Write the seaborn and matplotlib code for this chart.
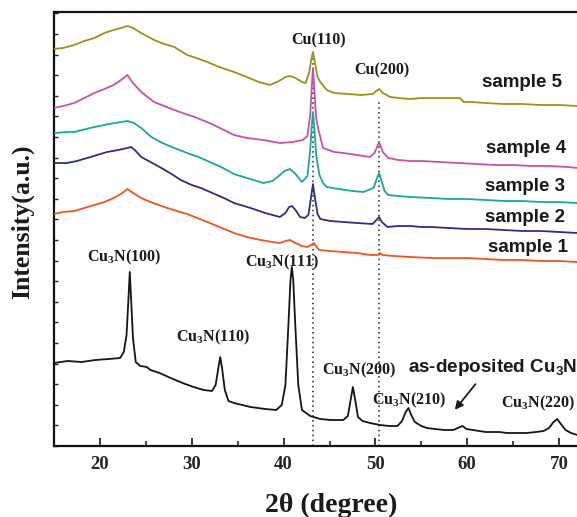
import numpy as np
import pandas as pd
import matplotlib
matplotlib.use("Agg")
import matplotlib.pyplot as plt
from matplotlib.ticker import MultipleLocator
import seaborn as sns

# ---------------- data (2theta in degrees, intensity in a.u.) ----------------
tt_asdep = [15.0, 16.5, 18.0, 19.5, 21.0, 22.2, 22.6, 22.9, 23.1, 23.25, 23.4, 23.6, 23.9, 24.4, 25.1, 25.5,
            26.5, 27.7, 29.0, 30.2, 31.3, 32.2, 32.6, 32.9, 33.1, 33.3, 33.6, 34.0, 34.6, 35.5, 36.4, 38.0,
            39.2, 39.8, 40.2, 40.5, 40.75, 40.9, 41.05, 41.3, 41.6, 42.0, 42.9, 44.0, 45.1, 46.5, 47.0, 47.3,
            47.55, 47.8, 48.1, 48.6, 49.4, 50.5, 51.5, 52.4, 52.9, 53.3, 53.6, 53.9, 54.3, 55.0, 55.6, 56.5,
            57.5, 58.5, 59.2, 59.5, 59.9, 60.6, 62.0, 63.5, 64.3, 65.5, 66.5, 67.5, 68.3, 68.9, 69.4, 69.8,
            70.2, 70.7, 71.3, 72.0, 73.0]
int_asdep = [83, 85, 84, 86, 87, 88, 94, 111, 146, 174, 146, 108, 84, 80, 79, 76,
             73, 68, 63, 59, 56, 55, 61, 78, 89, 78, 56, 45, 43, 41, 39, 37,
             36, 41, 61, 116, 166, 179, 166, 116, 61, 36, 30, 27, 26, 26, 30, 46,
             59, 46, 29, 25, 23, 21, 20, 20, 25, 34, 38, 31, 24, 20, 18, 17,
             16, 16, 19, 20, 17, 16, 14, 14, 13, 13, 13, 14, 15, 18, 24, 27,
             22, 16, 13, 11, 11]

tt_s1 = [15, 16, 17.2, 18.3, 19.4, 20.5, 21.5, 22.3, 23.0, 23.6, 24.5, 25.5, 26.7, 28.0, 29.5, 30.6, 31.7,
         33.0, 34.6, 36.0, 37.5, 38.8, 39.6, 40.2, 40.7, 41.3, 42.0, 42.6, 43.0, 43.3, 43.6, 43.9, 45.0,
         46.5, 48.0, 49.5, 50.2, 50.5, 50.8, 52.0, 53.8, 56.0, 58.0, 60.0, 62.0, 64.0, 66.0, 68.0, 70.0,
         72.0, 75.0]
int_s1 = [232, 234, 235, 238, 241, 244, 248, 252, 257, 253, 248, 244, 240, 236, 232, 228, 224,
          219, 213, 209, 206, 204, 203, 205, 206, 203, 200, 199, 201, 203, 199, 196, 195,
          194, 193, 191, 191, 193, 191, 190, 189, 188, 188, 188, 187, 186, 186, 185, 185,
          184, 184]

tt_s2 = [15, 16.4, 17.5, 18.6, 19.7, 20.8, 22.0, 23.0, 23.4, 23.8, 24.5, 25.5, 26.7, 27.8, 28.8, 30.0,
         31.0, 32.5, 33.5, 34.6, 36.4, 38.0, 39.6, 40.2, 40.6, 40.9, 41.3, 41.8, 42.3, 42.7, 42.95, 43.2,
         43.45, 43.7, 44.0, 45.1, 46.5, 48.0, 49.7, 50.1, 50.4, 50.7, 51.3, 52.5, 53.8, 55, 56, 58, 60,
         62, 64, 66, 68, 70, 72, 75]
int_s2 = [283, 283, 285, 288, 291, 294, 296, 298, 299, 296, 289, 284, 278, 272, 266, 261,
          258, 252, 248, 243, 238, 233, 229, 233, 239, 240, 236, 229, 228, 231, 246, 262,
          246, 232, 227, 225, 224, 223, 222, 226, 229, 224, 219, 220, 220, 219, 219, 218, 217,
          217, 216, 215, 215, 214, 213, 213]

tt_s3 = [15, 16.5, 17.2, 18.5, 19.4, 21.0, 22.3, 23.0, 23.7, 24.5, 25.6, 26.8, 28.1, 29.5, 31.0, 32.2,
         33.2, 34.6, 36.0, 37.8, 38.8, 39.6, 40.1, 40.7, 41.3, 42.0, 42.6, 42.9, 43.05, 43.2, 43.35, 43.55,
         43.9, 44.3, 44.7, 46.0, 47.5, 48.7, 49.8, 50.1, 50.4, 50.7, 51.0, 51.4, 52.5, 53.8, 56, 58, 60,
         62, 64, 66, 68, 70, 72, 75]
int_s3 = [313, 314, 314, 317, 319, 322, 324, 325, 323, 318, 309, 303, 298, 293, 288, 283,
          279, 272, 268, 263, 265, 271, 275, 277, 272, 264, 270, 296, 318, 334, 318, 291,
          271, 263, 259, 257, 255, 254, 258, 266, 273, 264, 255, 251, 250, 249, 248, 247, 247,
          246, 245, 245, 244, 244, 243, 242]

tt_s4 = [15, 16.0, 17.2, 18.3, 19.4, 20.5, 21.5, 22.3, 23.0, 23.5, 24.5, 25.9, 27.0, 28.1, 29.3, 30.3,
         31.4, 32.4, 33.5, 34.6, 36.0, 37.8, 39.6, 41.0, 42.1, 42.6, 42.9, 43.05, 43.2, 43.35, 43.55, 43.8,
         44.3, 45.5, 46.5, 48.0, 49.4, 49.9, 50.4, 50.8, 51.4, 52.5, 53.8, 55, 57, 59, 61, 63, 65, 67,
         69, 71, 72, 75]
int_s4 = [338, 340, 343, 348, 353, 357, 361, 366, 371, 364, 354, 344, 340, 336, 332, 329,
          325, 321, 316, 311, 308, 306, 303, 304, 306, 310, 331, 356, 378, 356, 328, 316,
          298, 294, 293, 291, 289, 293, 304, 294, 288, 286, 285, 285, 284, 283, 282, 281, 281, 280,
          280, 279, 278, 278]

tt_s5 = [15, 16.0, 17.2, 18.3, 19.4, 20.5, 21.5, 22.3, 23.0, 23.6, 24.5, 25.9, 27.0, 28.1, 29.5, 30.5,
         31.7, 33.0, 34.6, 36.0, 37.3, 38.5, 39.5, 40.2, 40.7, 41.3, 42.0, 42.4, 42.8, 43.0, 43.2, 43.4,
         43.7, 44.0, 44.7, 45.5, 47.0, 48.5, 49.7, 50.1, 50.4, 50.8, 51.6, 52.5, 53.8, 55, 57, 59.2, 59.6,
         60.5, 62, 64, 66, 68, 70, 72, 75]
int_s5 = [397, 398, 401, 405, 408, 413, 416, 418, 420, 418, 413, 406, 402, 399, 391, 388,
          384, 379, 374, 369, 364, 361, 365, 369, 370, 368, 364, 363, 374, 386, 394, 384,
          369, 364, 356, 353, 352, 351, 352, 355, 357, 353, 349, 348, 347, 348, 348, 348, 344,
          344, 343, 342, 342, 341, 341, 340, 340]

series_names = ["as-deposited", "sample 1", "sample 2", "sample 3", "sample 4", "sample 5"]
series_colors = ["#151515", "#f5531f", "#2b2e8e", "#17a89f", "#cc4fa8", "#9a9416"]

cu_lines = [43.2, 50.4]
cu_line_tops = [390, 346]

peak_labels = ["Cu$_\\mathregular{3}$N(100)", "Cu$_\\mathregular{3}$N(110)", "Cu$_\\mathregular{3}$N(111)",
               "Cu$_\\mathregular{3}$N(200)", "Cu$_\\mathregular{3}$N(210)", "Cu$_\\mathregular{3}$N(220)",
               "Cu(110)", "Cu(200)"]
peak_label_x = [22.63, 32.3, 39.84, 48.2, 53.67, 67.75, 43.76, 50.7]
peak_label_y = [189, 109, 184, 76, 46, 43, 406, 376]

sample_labels = ["sample 5", "sample 4", "sample 3", "sample 2", "sample 1"]
sample_label_x = [66.0, 66.35, 66.3, 66.25, 66.6]
sample_label_y = [364, 298, 260, 228, 198]

# ---------------- build table ----------------
frames = []
for name, tt, iy in zip(series_names,
                        [tt_asdep, tt_s1, tt_s2, tt_s3, tt_s4, tt_s5],
                        [int_asdep, int_s1, int_s2, int_s3, int_s4, int_s5]):
    frames.append(pd.DataFrame({"two_theta": tt, "intensity": iy, "series": name}))
df = pd.concat(frames, ignore_index=True)

sns.set_theme(style="ticks")
plt.rcParams["font.family"] = ["Liberation Serif", "DejaVu Serif"]

fig = plt.figure(figsize=(5.77, 5.17), dpi=100)
ax = fig.add_axes([54 / 577, 71 / 517, 551 / 577, 434 / 517])

for x, top in zip(cu_lines, cu_line_tops):
    ax.vlines(x, 0, top, colors="#222222", linestyles=(0, (1, 2.2)), linewidth=1.1, zorder=1)

sns.lineplot(data=df, x="two_theta", y="intensity", hue="series", hue_order=series_names,
             palette=dict(zip(series_names, series_colors)), estimator=None, sort=True,
             linewidth=1.3, legend=False, ax=ax, zorder=3)

ax.set_xlim(15, 75)
ax.set_ylim(0, 434)
ax.xaxis.set_major_locator(MultipleLocator(10))
ax.xaxis.set_minor_locator(MultipleLocator(5))
ax.yaxis.set_major_locator(MultipleLocator(20.6))
ax.set_yticklabels([])
ax.tick_params(axis="x", which="major", direction="in", length=6, width=1.3, pad=7,
               labelsize=13.5, top=False)
ax.tick_params(axis="x", which="minor", direction="in", length=3.5, width=1.2, top=False)
ax.tick_params(axis="y", which="major", direction="in", length=3, width=1.0, right=False)
for lab in ax.get_xticklabels():
    lab.set_fontweight("bold")
    lab.set_family(["Liberation Serif"])
for s in ["left", "bottom", "top"]:
    ax.spines[s].set_linewidth(1.6)
    ax.spines[s].set_color("#111111")
ax.spines["right"].set_visible(False)
ax.set_xlabel("")
ax.set_ylabel("")

serif_kw = dict(family=["Liberation Serif", "DejaVu Serif"], fontweight="bold", color="#1a1a1a")
sans_kw = dict(family=["Liberation Sans", "DejaVu Sans"], fontweight="bold", color="#1a1a1a")

for t, x, y in zip(peak_labels, peak_label_x, peak_label_y):
    ax.text(x, y, t, ha="center", va="center", fontsize=11.5, **serif_kw)

for t, x, y in zip(sample_labels, sample_label_x, sample_label_y):
    ax.text(x, y, t, ha="center", va="center", fontsize=13.5, **sans_kw)

ax.text(53.56, 79, "as-deposited Cu$_\\mathregular{3}$N", ha="left", va="center", fontsize=13.6, **sans_kw)
ax.annotate("", xy=(58.46, 34), xytext=(61.08, 64),
            arrowprops=dict(arrowstyle="-|>", color="#1a1a1a", lw=1.3, mutation_scale=12))

fig.text(22 / 577, 1 - 222 / 517, "Intensity(a.u.)", rotation=90, ha="center", va="center",
         fontsize=18.5, **serif_kw)
fig.text(331 / 577, 1 - 505 / 517, "2θ (degree)", ha="center", va="center", fontsize=20, **serif_kw)

fig.savefig("out.png", dpi=100)
